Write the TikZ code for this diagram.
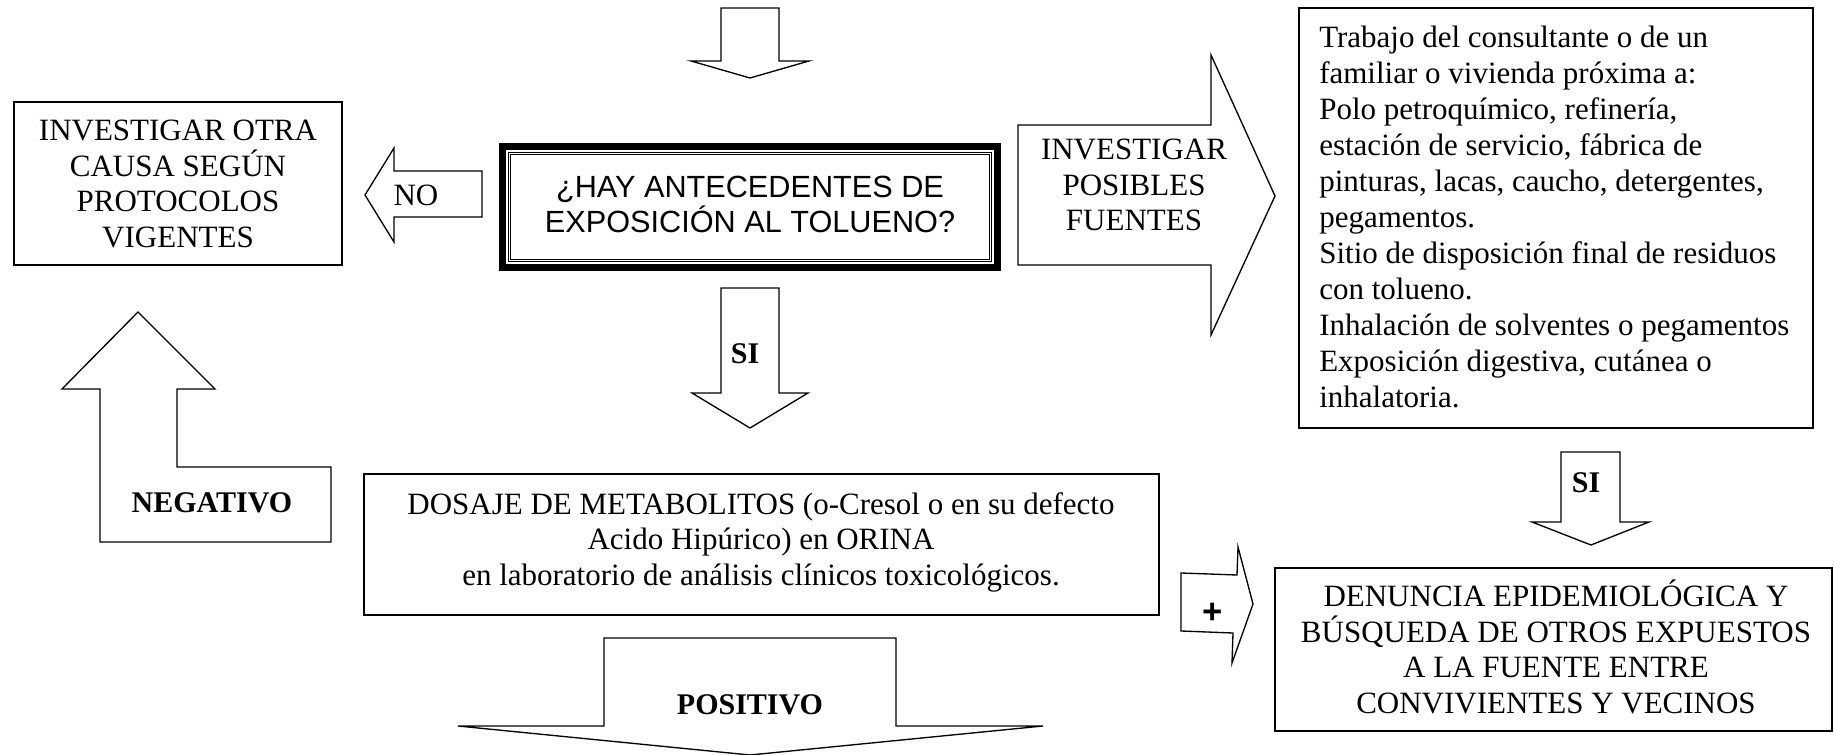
\documentclass[tikz,border=0pt]{standalone}
\usepackage{fontspec}
\setmainfont{Liberation Serif}
\newfontfamily\arialf{Liberation Sans}
\usepackage{tikz}

\begin{document}
\begin{tikzpicture}[x=0.75pt,y=0.75pt,yscale=-1,xscale=1,
  blk/.style={line width=1pt},
  txt/.style={inner sep=0pt,align=center,font=\fontsize{23.25}{26.6}\selectfont},
  lbl/.style={inner sep=0pt,font=\fontsize{22.5}{26}\selectfont\bfseries}]
\useasboundingbox (0,0) rectangle (1834,755);
\fill [white] (0,0) rectangle (1834,755);

%Down Arrow [id:top]
\draw [blk]  (721,8) -- (779,8) -- (779,61) -- (809,61) -- (750,78) -- (691,61) -- (721,61) -- cycle ;
%Shape: Rectangle [id:question]
\draw [line width=4.9pt]  (502.3,146.3) rectangle (997.7,267.7) ;
\draw [line width=0.75pt]  (508.3,152.3) rectangle (991.7,261.7) ;
\draw [line width=0.75pt]  (510.7,154.7) rectangle (989.3,259.3) ;
%Shape: Rectangle [id:othercause]
\draw [blk]  (14,102) -- (342,102) -- (342,265) -- (14,265) -- cycle ;
%Left Arrow [id:no]
\draw [blk]  (482,171) -- (394,171) -- (394,148) -- (365,195) -- (394,242) -- (394,217) -- (482,217) -- cycle ;
%Bent Up Arrow [id:negative]
\draw [blk]  (100,542) -- (100,389) -- (62,389) -- (138,312) -- (215,389) -- (177,389) -- (177,467) -- (331,467) -- (331,542) -- cycle ;
%Down Arrow [id:si1]
\draw [blk]  (721,288) -- (779,288) -- (779,393) -- (808,393) -- (750,428) -- (692,393) -- (721,393) -- cycle ;
%Right Arrow [id:sources]
\draw [blk]  (1018,125) -- (1211,125) -- (1211,55) -- (1275,196) -- (1211,335) -- (1211,265) -- (1018,265) -- cycle ;
%Shape: Rectangle [id:sourcelist]
\draw [blk]  (1299,8) -- (1813,8) -- (1813,428) -- (1299,428) -- cycle ;
%Down Arrow [id:si2]
\draw [blk]  (1561,452) -- (1620,452) -- (1620,522) -- (1649,522) -- (1591,545) -- (1532,522) -- (1561,522) -- cycle ;
%Shape: Rectangle [id:dosage]
\draw [blk]  (364,474) -- (1159,474) -- (1159,615) -- (364,615) -- cycle ;
%Right Arrow [id:plus]
\draw [blk]  (1181,573) -- (1237,575) -- (1238,547) -- (1253,604) -- (1232,663) -- (1233,633) -- (1181,631) -- cycle ;
%Shape: Rectangle [id:report]
\draw [blk]  (1275,568) -- (1832,568) -- (1832,731) -- (1275,731) -- cycle ;
%Down Arrow [id:positive]
\draw [blk]  (604,638) -- (896,638) -- (896,726) -- (1043,726) -- (750,755) -- (458,726) -- (604,726) -- cycle ;

\draw (750,204) node [inner sep=0pt,align=center,font=\arialf\fontsize{23}{26.25}\selectfont] (question) {¿HAY ANTECEDENTES DE\\EXPOSICIÓN AL TOLUENO?};
\draw (178,184) node [txt] (othercause) {INVESTIGAR OTRA\\CAUSA SEGÚN\\PROTOCOLOS\\VIGENTES};
\draw (416,195) node [txt] (nolbl) {NO};
\draw (1134,185) node [txt] (sources) {INVESTIGAR\\POSIBLES\\FUENTES};
\draw (1319,216.5) node [txt,anchor=west,align=left,font=\fontsize{23.25}{27}\selectfont] (sourcelist) {Trabajo del consultante o de un\\familiar o vivienda próxima a:\\Polo petroquímico, refinería,\\estación de servicio, fábrica de\\pinturas, lacas, caucho, detergentes,\\pegamentos.\\Sitio de disposición final de residuos\\con tolueno.\\Inhalación de solventes o pegamentos\\Exposición digestiva, cutánea o\\inhalatoria.};
\draw (745,354) node [lbl] (si1) {SI};
\draw (761,542) node [txt] (dosage) {DOSAJE DE METABOLITOS (o-Cresol o en su defecto\\Acido Hipúrico) en ORINA\\en laboratorio de análisis clínicos toxicológicos.};
\draw (212,503) node [lbl] (negative) {NEGATIVO};
\draw (750,705) node [lbl] (positive) {POSITIVO};
\draw (1586,483) node [lbl] (si2) {SI};
\draw (1213,613) node [inner sep=0pt,font=\arialf\bfseries\fontsize{26}{26}\selectfont] (plus) {+};
\draw (1556,647) node [txt] (report) {DENUNCIA EPIDEMIOLÓGICA Y\\BÚSQUEDA DE OTROS EXPUESTOS\\A LA FUENTE ENTRE\\CONVIVIENTES Y VECINOS};
\end{tikzpicture}
\end{document}
